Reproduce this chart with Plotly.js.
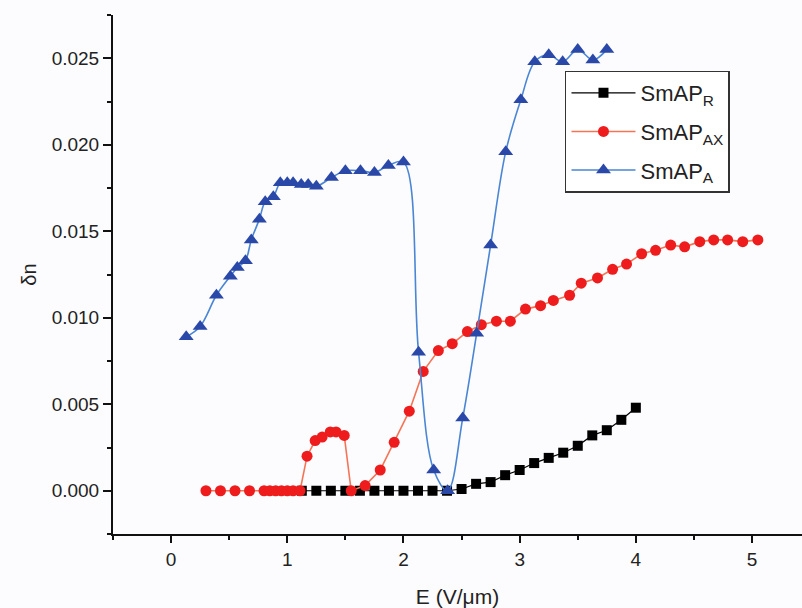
<!DOCTYPE html>
<html>
<head>
<meta charset="utf-8">
<script src="https://cdn.plot.ly/plotly-3.0.1.min.js"></script>
<style>html,body{margin:0;padding:0;background:#fcfcfe;}#chart{width:802px;height:608px;}</style>
</head>
<body>
<div id="chart"></div>
<script>
// SmAP_R (black squares)
const xR = [1.125,1.25,1.375,1.5,1.625,1.75,1.875,2.0,2.125,2.25,2.375,2.5,2.625,2.75,2.875,3.0,3.125,3.25,3.375,3.5,3.625,3.75,3.875,4.0];
const yR = [0,0,0,0,0,0,0,0,0,0,0,0.0001,0.0004,0.0005,0.0009,0.0012,0.0016,0.0019,0.0022,0.0026,0.0032,0.0035,0.0041,0.0048];

// SmAP_AX (red circles)
const xAX = [0.30,0.425,0.55,0.675,0.80,0.85,0.90,0.95,1.00,1.05,1.11,1.17,1.24,1.30,1.37,1.42,1.49,1.55,1.67,1.80,1.92,2.05,2.17,2.30,2.42,2.55,2.67,2.80,2.92,3.05,3.18,3.29,3.43,3.53,3.67,3.80,3.92,4.05,4.17,4.30,4.42,4.55,4.67,4.79,4.92,5.05];
const yAX = [0,0,0,0,0,0,0,0,0,0,0,0.0020,0.0029,0.0031,0.0034,0.0034,0.0032,0.0000,0.0003,0.0012,0.0028,0.0046,0.0069,0.0081,0.0085,0.0092,0.0096,0.0098,0.0098,0.0105,0.0107,0.0110,0.0113,0.0120,0.0123,0.0128,0.0131,0.0137,0.0139,0.0142,0.0141,0.0144,0.0145,0.0145,0.0144,0.0145];

// SmAP_A (blue triangles)
const xA = [0.13,0.25,0.39,0.51,0.57,0.64,0.69,0.76,0.81,0.88,0.94,1.00,1.05,1.12,1.18,1.25,1.38,1.50,1.63,1.75,1.87,2.00,2.13,2.26,2.38,2.51,2.63,2.75,2.88,3.01,3.13,3.25,3.37,3.50,3.63,3.75];
const yA = [0.0089,0.0095,0.0113,0.0124,0.0129,0.0133,0.0145,0.0157,0.0167,0.0170,0.0178,0.0178,0.0178,0.0177,0.0177,0.0176,0.0181,0.0185,0.0185,0.0184,0.0188,0.0190,0.0080,0.0012,0.0000,0.0042,0.0091,0.0142,0.0196,0.0226,0.0248,0.0252,0.0248,0.0255,0.0249,0.0255];

const names = ['SmAP<sub>R</sub>','SmAP<sub>AX</sub>','SmAP<sub>A</sub>'];

const traces = [
  {x:xR, y:yR, name:names[0], type:'scatter', mode:'lines+markers', legendgroup:'a',
   line:{color:'#000000', width:1.2}, marker:{symbol:'square', size:10, color:'#000000'}},
  {x:xAX, y:yAX, name:names[1], type:'scatter', mode:'lines+markers', legendgroup:'b',
   line:{color:'#f47456', width:1.6}, marker:{symbol:'circle', size:11, color:'#ee1c1c'}},
  {x:xA, y:yA, name:names[2], type:'scatter', mode:'lines+markers', legendgroup:'c',
   line:{color:'#4a86d4', width:1.6, shape:'spline', smoothing:1}, marker:{symbol:'triangle-up', size:13, color:'#2a48a8'}}
];

const FF = 'Liberation Sans, Arial, sans-serif';
const axFont = {family:FF, size:19, color:'#222'};

const layout = {
  width:802, height:608,
  margin:{l:113, r:0, t:15, b:74},
  paper_bgcolor:'#fcfcfe', plot_bgcolor:'#fcfcfe',
  showlegend:true,
  legend:{x:0.656, y:0.893, xanchor:'left', yanchor:'top', bgcolor:'#ffffff', bordercolor:'#333', borderwidth:1.5,
          font:{family:FF, size:22, color:'#222'}, traceorder:'grouped', tracegroupgap:7, itemwidth:64},
  xaxis:{range:[-0.5,5.43], tick0:0, dtick:1, showgrid:false, zeroline:false, showline:true, linecolor:'#111', linewidth:2,
         ticks:'outside', ticklen:7, tickwidth:2, tickcolor:'#111', tickfont:axFont,
         minor:{dtick:0.5, tick0:0, ticks:'outside', ticklen:4, tickwidth:2, tickcolor:'#111', showgrid:false},
         title:{text:'E (V/μm)', font:{family:FF, size:21, color:'#222'}, standoff:22}},
  yaxis:{range:[-0.0025,0.0275], tick0:0, dtick:0.005, tickformat:'.3f', showgrid:false, zeroline:false, showline:true, linecolor:'#111', linewidth:2,
         ticks:'outside', ticklen:8, tickwidth:2, tickcolor:'#111', tickfont:axFont,
         minor:{dtick:0.0025, tick0:0, ticks:'outside', ticklen:4, tickwidth:2, tickcolor:'#111', showgrid:false},
         title:{text:'δn', font:{family:FF, size:20, color:'#222'}, standoff:10}}
};

Plotly.newPlot('chart', traces, layout, {displayModeBar:false, staticPlot:true});
</script>
</body>
</html>
